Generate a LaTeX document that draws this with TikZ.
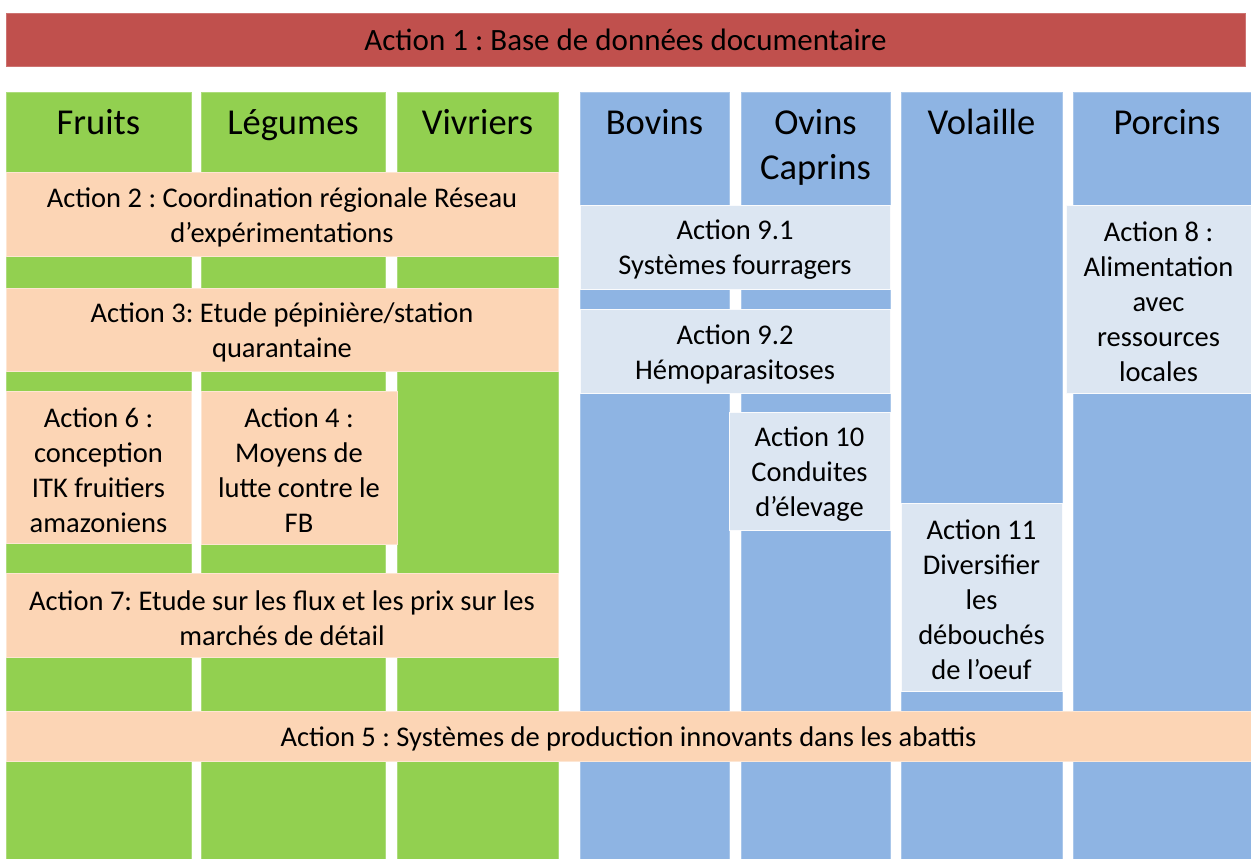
\documentclass[tikz,border=0pt]{standalone}
\usepackage{fontspec}
\setmainfont{Carlito}
\frenchspacing
\definecolor{barred}{HTML}{C0504D}
\definecolor{leaf}{HTML}{92D050}
\definecolor{peach}{HTML}{FCD5B5}
\definecolor{sky}{HTML}{8EB4E3}
\definecolor{mist}{HTML}{DCE6F2}
\begin{document}
\begin{tikzpicture}[x=1pt,y=-1pt,
  blk/.style={rectangle, inner sep=0pt, outer sep=0pt, anchor=north west, line width=0.8pt},
  greencol/.style={blk, fill=leaf, draw=leaf!75!white},
  bluecol/.style={blk, fill=sky, draw=sky!75!white},
  peachbox/.style={blk, fill=peach, draw=peach!60!white},
  mistbox/.style={blk, fill=mist, draw=white!85!mist},
  txt/.style={inner sep=0pt, align=center, yshift=-3pt,
    font=\fontsize{28.5}{35}\selectfont},
  topbar/.style={blk, fill=barred, draw=barred!80!white,
    font=\fontsize{31}{36}\selectfont},
  head/.style={inner sep=0pt, anchor=base, align=center,
    font=\fontsize{36.5}{45}\selectfont}]
\useasboundingbox (0,0) rectangle (1251,859);

% banner across the top
\node[topbar, minimum width=1239pt, minimum height=53pt] (a1) at (6,13)
  {Action 1 : Base de données documentaire};

% crop columns
\node[greencol, minimum width=185pt, minimum height=767pt] (fruits) at (6,92) {};
\node[greencol, minimum width=184pt, minimum height=767pt] (legumes) at (201,92) {};
\node[greencol, minimum width=161pt, minimum height=767pt] (vivriers) at (397,92) {};

% livestock columns
\node[bluecol, minimum width=149pt, minimum height=767pt] (bovins) at (580,92) {};
\node[bluecol, minimum width=149pt, minimum height=767pt] (ovins) at (741,92) {};
\node[bluecol, minimum width=161pt, minimum height=767pt] (volaille) at (901,92) {};
\node[bluecol, minimum width=178pt, minimum height=767pt] (porcins) at (1073,92) {};

% column headings (base anchor = baseline of the last line)
\node[head] (fruitsT) at (98.5,134) {Fruits};
\node[head] (legumesT) at (293,134) {Légumes};
\node[head] (vivriersT) at (477.5,134) {Vivriers};
\node[head] (bovinsT) at (654.5,134) {Bovins};
\node[head] (ovinsT) at (815.5,179) {Ovins\\Caprins};
\node[head] (volailleT) at (981.5,134) {Volaille};
\node[head] (porcinsT) at (1167,134) {Porcins};

% actions on crops
\node[peachbox, minimum width=552pt, minimum height=84pt] (a2) at (6,172) {};
\node[txt] (a2t) at (a2.center) {Action 2 : Coordination régionale Réseau\\d’expérimentations};
\node[peachbox, minimum width=552pt, minimum height=83pt] (a3) at (6,288) {};
\node[txt] (a3t) at (a3.center) {Action 3: Etude pépinière/station\\quarantaine};
\node[peachbox, minimum width=185pt, minimum height=152pt] (a6) at (6,391) {};
\node[txt] (a6t) at (a6.center) {Action 6 :\\conception\\ITK fruitiers\\amazoniens};
\node[peachbox, minimum width=196pt, minimum height=153pt] (a4) at (201,391) {};
\node[txt] (a4t) at (a4.center) {Action 4 :\\Moyens de\\lutte contre le\\FB};
\node[peachbox, minimum width=552pt, minimum height=84pt] (a7) at (6,573) {};
\node[txt] (a7t) at (a7.center) {Action 7: Etude sur les flux et les prix sur les\\marchés de détail};

% actions on livestock
\node[mistbox, minimum width=310pt, minimum height=84pt] (a91) at (580,205) {};
\node[txt] (a91t) at (a91.center) {Action 9.1\\Systèmes fourragers};
\node[mistbox, minimum width=310pt, minimum height=84pt] (a92) at (580,309) {};
\node[txt] (a92t) at (a92.center) {Action 9.2\\Hémoparasitoses};
\node[mistbox, minimum width=185pt, minimum height=188pt] (a8) at (1066,205) {};
\node[txt] (a8t) at (a8.center) {Action 8 :\\Alimentation\\avec\\ressources\\locales};
\node[mistbox, minimum width=161pt, minimum height=118pt] (a10) at (729,412) {};
\node[txt] (a10t) at (a10.center) {Action 10\\Conduites\\d’élevage};
\node[mistbox, minimum width=161pt, minimum height=188pt] (a11) at (901,503) {};
\node[txt] (a11t) at (a11.center) {Action 11\\Diversifier\\les\\débouchés\\de l’oeuf};

% cross-cutting action
\node[peachbox, minimum width=1245pt, minimum height=50pt] (a5) at (6,711) {};
\node[txt] (a5t) at (a5.center) {Action 5 : Systèmes de production innovants dans les abattis};
\end{tikzpicture}
\end{document}
